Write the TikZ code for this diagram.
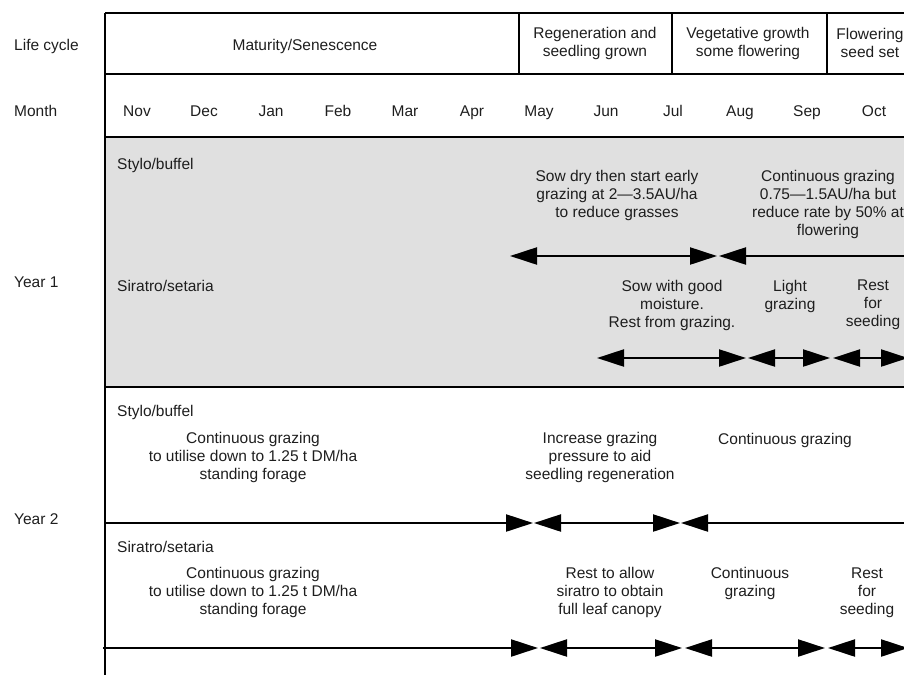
\documentclass[tikz,border=0pt]{standalone}
\usepackage{fontspec}
\setmainfont{Liberation Sans}
\usetikzlibrary{arrows.meta}
\definecolor{greyband}{HTML}{E0E0E0}
\definecolor{ink}{HTML}{1E1E1E}
\tikzstyle{txt} = [text=ink, align=center, inner sep=0pt, font=\fontsize{15.5}{18}\selectfont]
\tikzstyle{month} = [txt, anchor=base]
\tikzstyle{rowlabel} = [txt, anchor=base west, align=left]
\tikzstyle{rule} = [line width=2.6pt, draw=black]
\tikzstyle{thinrule} = [line width=1.8pt, draw=black]
\tikzstyle{span} = [line width=2.2pt, draw=black, >={Triangle[length=27pt,width=17pt]}]
\newcommand{\drawSpan}[3]
{
    \draw [span, #3] (#1) -- (#2);
}

\begin{document}
\begin{tikzpicture}[x=1pt, y=-1pt]
\useasboundingbox (0,0) rectangle (904,675);
\clip (0,0) rectangle (904,675);

% frame
\fill [greyband] (105,137) rectangle (920,387);
\draw [thinrule] (105,13) -- (920,13);
\draw [rule] (105,74) -- (920,74);
\draw [rule] (105,137) -- (920,137);
\draw [rule] (105,387) -- (920,387);
\draw [thinrule] (105,13) -- (105,675);
\draw [rule] (519,13) -- (519,74);
\draw [thinrule] (672,13) -- (672,74);
\draw [rule] (827,13) -- (827,74);

% row labels
\node (lLife) [rowlabel, xshift=14pt, yshift=-50pt] {Life cycle};
\node (lMonth) [rowlabel, xshift=14pt, yshift=-116pt] {Month};
\node (lYear1) [rowlabel, xshift=14pt, yshift=-287pt] {Year 1};
\node (lYear2) [rowlabel, xshift=14pt, yshift=-524pt] {Year 2};

% life cycle
\node (cMature) [month, xshift=305pt, yshift=-50pt] {Maturity/Senescence};
\node (cRegen) [txt, xshift=595pt, yshift=-43pt] {Regeneration and\\seedling grown};
\node (cVeg) [txt, xshift=748pt, yshift=-43pt] {Vegetative growth\\some flowering};
\node (cFlower) [txt, xshift=870pt, yshift=-43pt] {Flowering\\seed set};

% months
\node (mNov) [month, xshift=137pt, yshift=-116pt] {Nov};
\node (mDec) [month, xshift=204pt, yshift=-116pt] {Dec};
\node (mJan) [month, xshift=271pt, yshift=-116pt] {Jan};
\node (mFeb) [month, xshift=338pt, yshift=-116pt] {Feb};
\node (mMar) [month, xshift=405pt, yshift=-116pt] {Mar};
\node (mApr) [month, xshift=472pt, yshift=-116pt] {Apr};
\node (mMay) [month, xshift=539pt, yshift=-116pt] {May};
\node (mJun) [month, xshift=606pt, yshift=-116pt] {Jun};
\node (mJul) [month, xshift=673pt, yshift=-116pt] {Jul};
\node (mAug) [month, xshift=740pt, yshift=-116pt] {Aug};
\node (mSep) [month, xshift=807pt, yshift=-116pt] {Sep};
\node (mOct) [month, xshift=874pt, yshift=-116pt] {Oct};

% year 1
\node (sbOne) [rowlabel, xshift=117pt, yshift=-169pt] {Stylo/buffel};
\node (sbSow) [txt, xshift=617pt, yshift=-195pt] {Sow dry then start early\\grazing at 2---3.5AU/ha\\to reduce grasses};
\node (sbCont) [txt, xshift=828pt, yshift=-204pt] {Continuous grazing\\0.75---1.5AU/ha but\\reduce rate by 50\% at\\flowering};
\node (ssOne) [rowlabel, xshift=117pt, yshift=-291pt] {Siratro/setaria};
\node (ssSow) [txt, xshift=672pt, yshift=-305pt] {Sow with good\\moisture.\\Rest from grazing.};
\node (ssLight) [txt, xshift=790pt, yshift=-296pt] {Light\\grazing};
\node (ssRest) [txt, xshift=873pt, yshift=-305pt] {Rest\\for\\seeding};

\coordinate (p1) at (510,256);
\coordinate (p2) at (717,256);
\coordinate (p3) at (719,256);
\coordinate (p4) at (930,256);
\coordinate (q1) at (597,358);
\coordinate (q2) at (746,358);
\coordinate (q3) at (748,358);
\coordinate (q4) at (830,358);
\coordinate (q5) at (833,358);
\coordinate (q6) at (908,358);

\drawSpan{p1}{p2}{<->}
\drawSpan{p3}{p4}{<-}
\drawSpan{q1}{q2}{<->}
\drawSpan{q3}{q4}{<->}
\drawSpan{q5}{q6}{<->}

% year 2
\node (sbTwo) [rowlabel, xshift=117pt, yshift=-416pt] {Stylo/buffel};
\node (sbUse) [txt, xshift=253pt, yshift=-457pt] {Continuous grazing\\to utilise down to 1.25 t DM/ha\\standing forage};
\node (sbInc) [txt, xshift=600pt, yshift=-457pt] {Increase grazing\\pressure to aid\\seedling regeneration};
\node (sbCont2) [month, xshift=785pt, yshift=-444pt] {Continuous grazing};
\node (ssTwo) [rowlabel, xshift=117pt, yshift=-552pt] {Siratro/setaria};
\node (ssUse) [txt, xshift=253pt, yshift=-592pt] {Continuous grazing\\to utilise down to 1.25 t DM/ha\\standing forage};
\node (ssAllow) [txt, xshift=610pt, yshift=-592pt] {Rest to allow\\siratro to obtain\\full leaf canopy};
\node (ssCont2) [txt, xshift=750pt, yshift=-583pt] {Continuous\\grazing};
\node (ssRest2) [txt, xshift=867pt, yshift=-593pt] {Rest\\for\\seeding};

\coordinate (r1) at (105,523);
\coordinate (r2) at (533,523);
\coordinate (r3) at (534,523);
\coordinate (r4) at (680,523);
\coordinate (r5) at (681,523);
\coordinate (r6) at (930,523);
\coordinate (t1) at (103,648);
\coordinate (t2) at (538,648);
\coordinate (t3) at (540,648);
\coordinate (t4) at (682,648);
\coordinate (t5) at (685,648);
\coordinate (t6) at (825,648);
\coordinate (t7) at (828,648);
\coordinate (t8) at (908,648);

\drawSpan{r1}{r2}{->}
\drawSpan{r3}{r4}{<->}
\drawSpan{r5}{r6}{<-}
\drawSpan{t1}{t2}{->}
\drawSpan{t3}{t4}{<->}
\drawSpan{t5}{t6}{<->}
\drawSpan{t7}{t8}{<->}

\end{tikzpicture}
\end{document}
